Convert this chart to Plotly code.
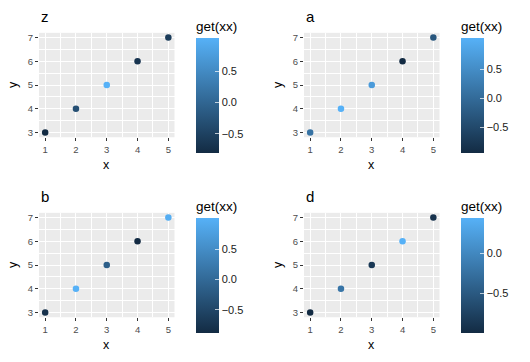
import plotly.graph_objects as go

x_vals = [1, 2, 3, 4, 5]
y_vals = [3, 4, 5, 6, 7]
panel_names = ["z", "a", "b", "d"]
color_z = [-0.81, -0.32, 1.03, -0.68, -0.58]
color_a = [0.12, 1.04, 0.72, -0.95, -0.30]
color_b = [-0.80, 1.02, -0.15, -0.89, 0.97]
color_d = [-1.00, -0.20, -0.85, 0.44, -0.92]
colors = [color_z, color_a, color_b, color_d]
cbar_ticks = [[-0.5, 0.0, 0.5], [-0.5, 0.0, 0.5], [-0.5, 0.0, 0.5], [-0.5, 0.0]]

W, H = 530, 362
FONT = "Liberation Sans, Arial, sans-serif"
fig = go.Figure()

offsets = [(0, 0), (265, 0), (0, 181), (265, 181)]
annotations = []
for i, (name, col, ticks, (ox, oy)) in enumerate(zip(panel_names, colors, cbar_ticks, offsets)):
    k = "" if i == 0 else str(i + 1)
    px0, px1 = ox + 39, ox + 174.5
    py0, py1 = oy + 32, oy + 137
    fig.add_trace(go.Scatter(
        x=x_vals, y=y_vals, mode="markers",
        xaxis="x" + k, yaxis="y" + k,
        marker=dict(size=6.5, color=col, coloraxis="coloraxis" + k, line=dict(width=0)),
        showlegend=False, hoverinfo="skip"))
    axcommon = dict(showgrid=True, gridcolor="white", gridwidth=1.1,
                    zeroline=False, showline=False, ticks="outside", ticklen=3,
                    tickcolor="#333333", tickwidth=1,
                    tickfont=dict(size=9.5, color="#4D4D4D", family=FONT),
                    minor=dict(dtick=0.5, showgrid=True, gridcolor="white", gridwidth=0.55),
                    dtick=1, tick0=1, fixedrange=True)
    fig.update_layout(**{
        "xaxis" + k: dict(domain=[px0 / W, px1 / W], anchor="y" + k, range=[0.8, 5.2], **axcommon),
        "yaxis" + k: dict(domain=[1 - py1 / H, 1 - py0 / H], anchor="x" + k, range=[2.8, 7.2], **axcommon),
        "coloraxis" + k: dict(
            colorscale=[[0, "#132B43"], [1, "#56B1F7"]],
            cmin=min(col), cmax=max(col),
            colorbar=dict(
                x=(ox + 196) / W, xanchor="left",
                y=1 - (oy + 153) / H, yanchor="bottom",
                lenmode="pixels", len=135, thickness=23, thicknessmode="pixels",
                outlinewidth=0, xpad=0, ypad=0,
                tickvals=ticks, tickformat=".1f",
                ticks="inside", ticklen=4, tickcolor="rgba(255,255,255,0.7)",
                tickfont=dict(size=11, color="#1a1a1a", family=FONT),
                title=dict(text="get(xx)", side="top", font=dict(size=13.5, color="black", family=FONT)),
            )),
    })
    annotations.append(dict(text=name, x=(ox + 39) / W, y=1 - (oy + 16) / H, xref="paper", yref="paper",
                            xanchor="left", yanchor="middle", showarrow=False,
                            font=dict(size=15, color="black", family=FONT)))
    annotations.append(dict(text="x", x=(px0 + px1) / 2 / W, y=1 - (oy + 165) / H, xref="paper", yref="paper",
                            xanchor="center", yanchor="middle", showarrow=False,
                            font=dict(size=12.5, color="black", family=FONT)))
    annotations.append(dict(text="y", x=(ox + 13) / W, y=1 - (py0 + py1) / 2 / H, xref="paper", yref="paper",
                            xanchor="center", yanchor="middle", showarrow=False, textangle=-90,
                            font=dict(size=12.5, color="black", family=FONT)))

fig.update_layout(width=W, height=H, margin=dict(l=0, r=0, t=0, b=0),
                  paper_bgcolor="white", plot_bgcolor="#EBEBEB",
                  annotations=annotations, font=dict(family=FONT))
fig.write_html("out.html", config={"displayModeBar": False},
               post_script="document.body.style.margin='0';document.body.style.overflow='hidden';")
